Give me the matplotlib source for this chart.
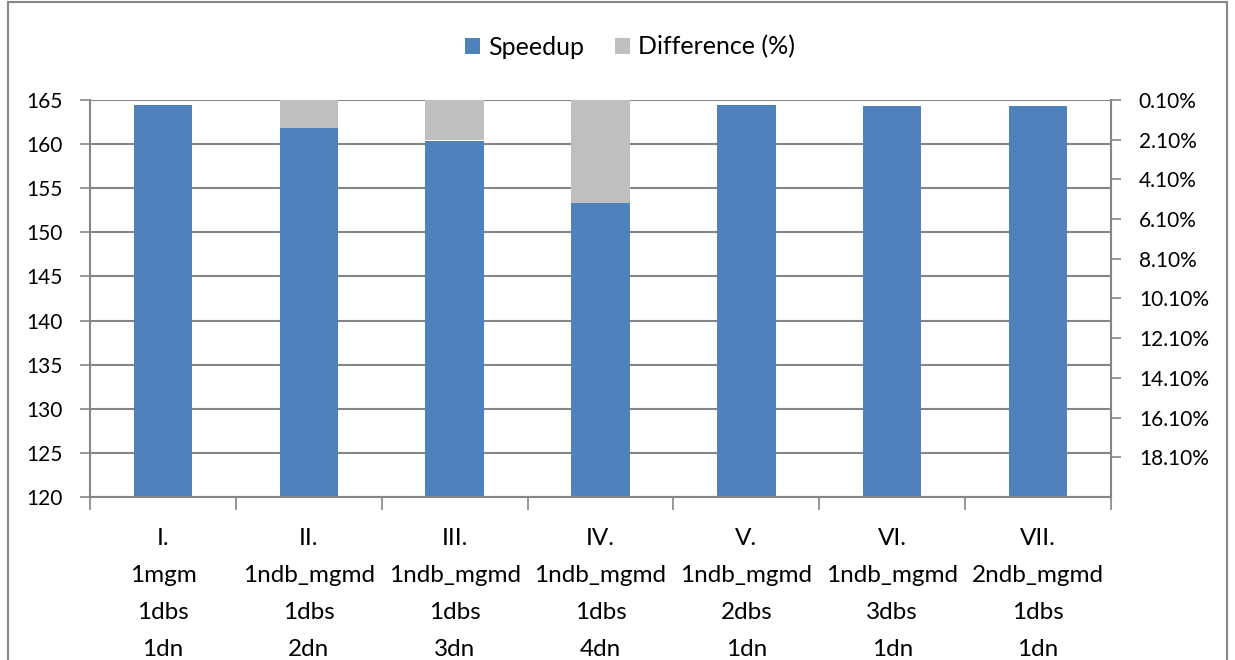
import numpy as np
import matplotlib.pyplot as plt
from matplotlib.patches import Rectangle

# speedup per configuration and difference (%) on the inverted right axis
labels = ["I.\n1mgm\n1dbs\n1dn",
          "II.\n1ndb_mgmd\n1dbs\n2dn",
          "III.\n1ndb_mgmd\n1dbs\n3dn",
          "IV.\n1ndb_mgmd\n1dbs\n4dn",
          "V.\n1ndb_mgmd\n2dbs\n1dn",
          "VI.\n1ndb_mgmd\n3dbs\n1dn",
          "VII.\n2ndb_mgmd\n1dbs\n1dn"]
speedup = [164.4, 161.8, 160.4, 153.3, 164.4, 164.3, 164.3]
difference = [0.0, 1.5, 2.1, 5.3, 0.0, 0.0, 0.0]

right_ticks = [0.1, 2.1, 4.1, 6.1, 8.1, 10.1, 12.1, 14.1, 16.1, 18.1]

plt.rcParams['font.family'] = ['Lato', 'DejaVu Sans']
blue = '#4F81BD'
grey = '#BFBFBF'
axis_col = '#868686'

fig = plt.figure(figsize=(12.35, 6.6), dpi=100)
ax = fig.add_axes([90/1235, 1-497/660, (1111-90)/1235, (497-100)/660])
x = np.arange(len(labels))

ax.bar(x, speedup, width=0.4, color=blue, label='Speedup', zorder=2)
ax.set_ylim(120, 165)
ax.set_yticks(np.arange(120, 166, 5))
ax.set_xlim(-0.5, len(labels) - 0.5)
ax.yaxis.grid(True, color=axis_col, linewidth=1.5, zorder=0)
ax.set_axisbelow(True)

# category ticks sit between the bars
ax.set_xticks(np.arange(-0.5, len(labels), 1.0))
ax.set_xticklabels([])
ax.set_xticks(x, minor=True)
ax.set_xticklabels(labels, minor=True, fontsize=17.5, linespacing=1.95)
ax.tick_params(axis='x', which='minor', length=0, pad=22)
ax.tick_params(axis='x', which='major', length=9, width=1.2, color=axis_col)
ax.tick_params(axis='y', length=7, width=1.2, color=axis_col, labelsize=15, pad=13)

for s in ['left', 'bottom', 'right']:
    ax.spines[s].set_color(axis_col)
    ax.spines[s].set_linewidth(1.5)
ax.spines['top'].set_visible(False)

# inverted percentage axis, bars hang from the top
ax2 = ax.twinx()
ax2.bar(x, difference, width=0.4, color=grey, label='Difference (%)', zorder=2)
ax2.set_ylim(20.1, 0.1)
ax2.set_yticks(right_ticks)
ax2.set_yticklabels(['%.2f%%' % t for t in right_ticks])
ax2.tick_params(axis='y', length=7, width=1.2, color=axis_col, labelsize=15, pad=13)
for s in ['left', 'bottom', 'top']:
    ax2.spines[s].set_visible(False)
ax2.spines['right'].set_color(axis_col)
ax2.spines['right'].set_linewidth(1.5)

h1, l1 = ax.get_legend_handles_labels()
h2, l2 = ax2.get_legend_handles_labels()
fig.legend(h1 + h2, l1 + l2, loc='center', bbox_to_anchor=(630/1235, 1-47/660),
           ncol=2, frameon=False, fontsize=18, handlelength=0.6, handleheight=0.6,
           handletextpad=0.3, columnspacing=1.25)

# chart border
fig.patches.append(Rectangle((8/1235, -0.05), (1227-8)/1235, 1.05 - 2/660,
                             transform=fig.transFigure, fill=False,
                             edgecolor=axis_col, linewidth=1.5))

fig.savefig('out.png', dpi=100)
